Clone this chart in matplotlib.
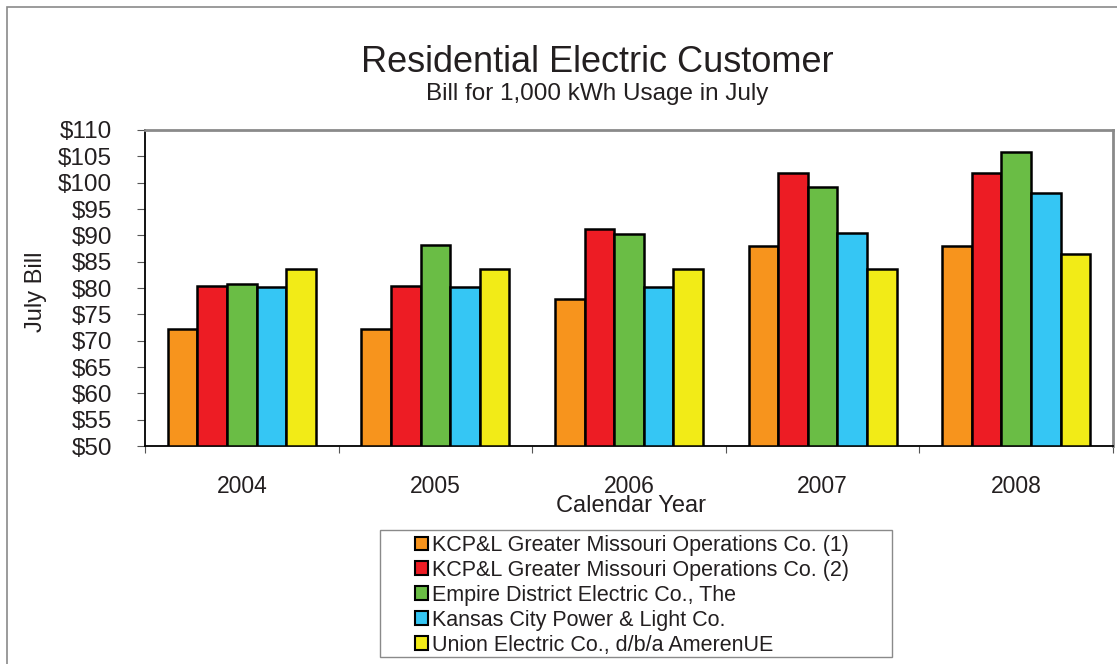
import matplotlib.pyplot as plt
from matplotlib.patches import Patch, Rectangle
import numpy as np

plt.rcParams['font.family'] = ['Liberation Sans', 'DejaVu Sans']

years = ['2004', '2005', '2006', '2007', '2008']
companies = ['KCP&L Greater Missouri Operations Co. (1)',
             'KCP&L Greater Missouri Operations Co. (2)',
             'Empire District Electric Co., The',
             'Kansas City Power & Light Co.',
             'Union Electric Co., d/b/a AmerenUE']
gmo1 = [72.2, 72.2, 78.0, 88.0, 88.0]
gmo2 = [80.4, 80.4, 91.2, 101.9, 101.9]
empire = [80.7, 88.1, 90.3, 99.2, 105.8]
kcpl = [80.2, 80.2, 80.2, 90.4, 98.0]
ameren = [83.7, 83.7, 83.7, 83.7, 86.4]
series = [gmo1, gmo2, empire, kcpl, ameren]
colors = ['#F7941D', '#ED1C24', '#6ABD45', '#35C6F4', '#F2EB17']
txt = '#231F20'

W, H = 1117, 664
fig = plt.figure(figsize=(W / 100, H / 100), dpi=100)

# outer frame (runs off the right and bottom edge)
fig.patches.append(Rectangle((7 / W, -0.1), 1.2, 1.1 - 7 / H, transform=fig.transFigure,
                             fill=False, edgecolor='#8a8a8a', linewidth=1.2))

ax = fig.add_axes([145 / W, (H - 446) / H, 968 / W, 316 / H])

x = np.arange(len(years))
w = 0.153
for j, vals in enumerate(series):
    ax.bar(x + (j - 2) * w, np.array(vals) - 50, bottom=50, width=w, color=colors[j],
           edgecolor='black', linewidth=1.8, zorder=3)

ax.set_xlim(-0.5, 4.5)
ax.set_ylim(50, 110)
ax.set_yticks(range(50, 111, 5))
ax.set_yticklabels(['$%d' % v for v in range(50, 111, 5)], fontsize=17.5, color=txt)
ax.set_xticks(np.arange(-0.5, 5, 1))
ax.set_xticklabels([])
ax.set_xticks(x, minor=True)
ax.set_xticklabels(years, minor=True, fontsize=16.5, color=txt)
ax.tick_params(axis='x', which='minor', length=0, pad=21)
ax.tick_params(axis='x', which='major', direction='out', length=5, color='#555555')
ax.tick_params(axis='y', direction='out', length=5.8, color='#555555', pad=18)

for s in ['top', 'right']:
    ax.spines[s].set_color('#8a8a8a')
    ax.spines[s].set_linewidth(2)
for s in ['left', 'bottom']:
    ax.spines[s].set_color('black')
    ax.spines[s].set_linewidth(1.3)

fig.text(597 / W, 1 - 63 / H, 'Residential Electric Customer', ha='center', va='center',
         fontsize=26, color=txt)
fig.text(597 / W, 1 - 94 / H, 'Bill for 1,000 kWh Usage in July', ha='center', va='center',
         fontsize=17.5, color=txt)
fig.text(631 / W, 1 - 506 / H, 'Calendar Year', ha='center', va='center', fontsize=17, color=txt)
fig.text(36 / W, 1 - 292 / H, 'July Bill', ha='center', va='center', rotation=90,
         fontsize=17, color=txt)

# legend box drawn separately, entries placed inside it
fig.patches.append(Rectangle((380 / W, 1 - 657 / H), 512 / W, 127 / H, transform=fig.transFigure,
                             fill=False, edgecolor='#8a8a8a', linewidth=1))
handles = [Patch(facecolor=c, edgecolor='black', linewidth=1.5) for c in colors]
leg = fig.legend(handles, companies, loc='upper left', bbox_to_anchor=(415 / W, 1 - 535 / H),
                 fontsize=15.5, frameon=False, handlelength=0.6, handleheight=0.6,
                 handletextpad=0.2, labelspacing=0.18, borderpad=0, borderaxespad=0)
for t in leg.get_texts():
    t.set_color(txt)

fig.savefig('out.png', dpi=100)
